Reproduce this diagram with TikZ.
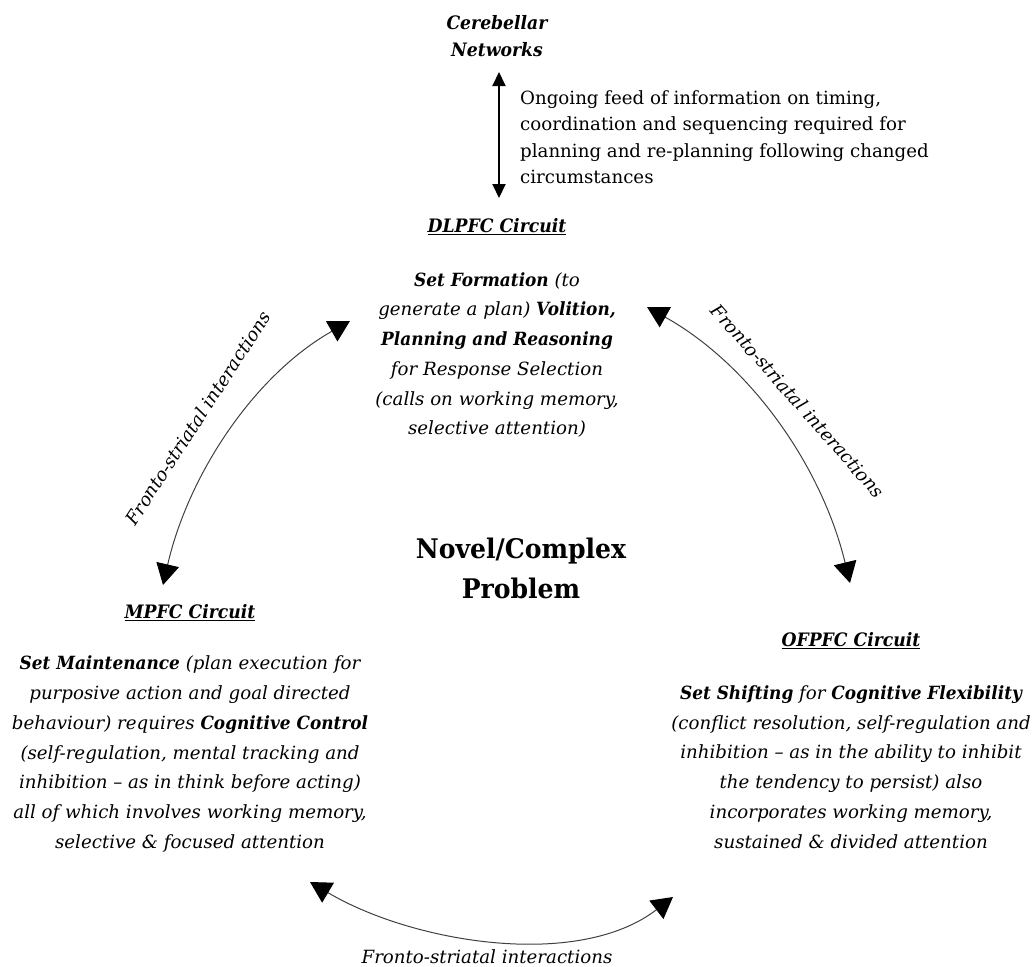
\documentclass[tikz,border=0pt]{standalone}
\usepackage{fontspec}
\setmainfont{DejaVu Serif}[BoldFeatures={FakeStretch=0.93},BoldItalicFeatures={FakeStretch=0.93}]
\usetikzlibrary{arrows.meta}
\tikzset{
  body/.style={font=\fontsize{18.2}{29.7}\selectfont\itshape, align=center, inner sep=0pt},
  head/.style={font=\fontsize{18.5}{23}\selectfont\bfseries\itshape, inner sep=0pt},
  toptext/.style={font=\fontsize{18.2}{26.5}\selectfont, align=left, inner sep=0pt},
  problem/.style={font=\fontsize{27}{40}\selectfont\bfseries, align=center, inner sep=0pt},
  lab/.style={font=\fontsize{18.2}{23}\selectfont\itshape, inner sep=0pt},
  bigtip/.style={Triangle[length=21pt,width=23pt,color=black]},
  conn/.style={draw=black!75, line width=1pt, {Triangle[length=21pt,width=23pt,color=black]}-{Triangle[length=21pt,width=23pt,color=black]}},
  vconn/.style={draw=black, line width=2pt,
    {Triangle[length=14pt,width=13pt]}-{Triangle[length=14pt,width=13pt]}},
}
\begin{document}
\begin{tikzpicture}[x=1pt,y=-1pt]
\useasboundingbox (0,0) rectangle (1034,967);

% texts
\node[head, align=center] (cereb) at (497,36) {Cerebellar\\[4pt]Networks};
\node[toptext, anchor=west] (feed) at (520,137) {Ongoing feed of information on timing,\\
coordination and sequencing required for\\
planning and re-planning following changed\\
circumstances};
\node[head] (dltitle) at (497,227) {\underline{DLPFC Circuit}};
\node[body] (dlbody) at (497,355) {\textbf{Set Formation} (to\\
generate a plan) \textbf{Volition,}\\
\textbf{Planning and Reasoning}\\
for Response Selection\\
(calls on working memory,\\
selective attention)};
\node[problem] (prob) at (521,568) {Novel/Complex\\Problem};
\node[head] (mptitle) at (190,613) {\underline{MPFC Circuit}};
\node[body] (mpbody) at (190,754) {\textbf{Set Maintenance} (plan execution for\\
purposive action and goal directed\\
behaviour) requires \textbf{Cognitive Control}\\
(self-regulation, mental tracking and\\
inhibition – as in think before acting)\\
all of which involves working memory,\\
selective \& focused attention};
\node[head] (oftitle) at (851,641) {\underline{OFPFC Circuit}};
\node[body] (ofbody) at (851,767) {\textbf{Set Shifting} for \textbf{Cognitive Flexibility}\\
(conflict resolution, self-regulation and\\
inhibition – as in the ability to inhibit\\
the tendency to persist) also\\
incorporates working memory,\\
sustained \& divided attention};

% connector end points
\coordinate (vtop) at (499,72);
\coordinate (vbot) at (499,198);
\coordinate (lb) at (163,585);
\coordinate (lt) at (350,321);
\coordinate (rt) at (647,307);
\coordinate (rb) at (850,583);
\coordinate (bl) at (310,882);
\coordinate (br) at (673,897);

\draw[vconn] (vtop) -- (vbot);
\draw[conn] (lb) .. controls (188,476) and (253,376) .. (lt);
\draw[conn] (rt) .. controls (751,365) and (822,467) .. (rb);
\draw[conn] (bl) .. controls (413,943) and (578,970) .. (br);

\node[lab, rotate=57] (labl) at (198,418) {Fronto-striatal interactions};
\node[lab, rotate=-48.5] (labr) at (798,401) {Fronto-striatal interactions};
\node[lab] (labb) at (487,957) {Fronto-striatal interactions};
\end{tikzpicture}
\end{document}
